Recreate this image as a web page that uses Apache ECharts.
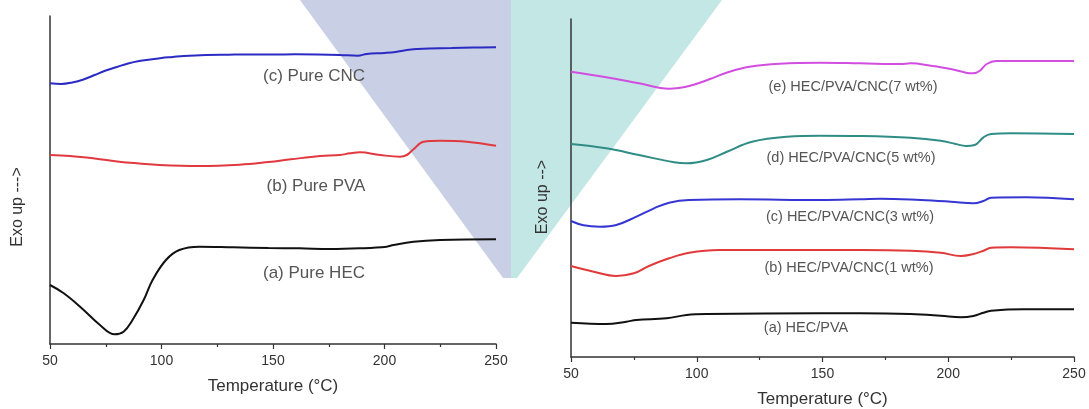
<!DOCTYPE html>
<html>
<head>
<meta charset="utf-8">
<script src="https://cdn.jsdelivr.net/npm/echarts@6/dist/echarts.min.js"></script>
<style>
html,body{margin:0;padding:0;background:#fff;}
#chart{width:1089px;height:409px;}
</style>
</head>
<body>
<div id="chart"></div>
<script>
// Temperature ticks
const xTicks = [50, 100, 150, 200, 250];

// Left panel: DSC curves (heat flow, arbitrary units)
const pureCNC = [[50,260.7],[55,260],[60,261.5],[65,264.5],[70,269],[75,273.5],[80,277],[85,280.5],[90,283],[95,284.5],[100,286],[105,287],[110,288],[120,289],[130,289.3],[140,289.5],[150,289.5],[160,289.7],[170,289.5],[180,289],[188,288.3],[192,290],[200,291],[205,292],[210,294],[215,295],[220,295.5],[230,296],[240,296.5],[250,296.7]];
const purePVA = [[50,189],[59,188],[70,185.5],[81,182.3],[90,180.5],[99,179],[117,178],[135,179.3],[148,182],[158,184.7],[171,188],[180,189],[184.5,190.7],[189,191.7],[198,189],[207,187.3],[210,189],[213,194.7],[217.5,202.3],[225,203.3],[237,202.3],[250,198.3]];
const pureHEC = [[50,59],[56,51],[63.5,37.3],[72.4,19],[79,9.7],[83,12.3],[87,24],[92,44],[96,64],[102,84],[108,94],[117,97.3],[132,96.7],[148,96],[162,95.7],[175.6,95],[189,95.7],[201,97.3],[204,99],[213,102.3],[225,104],[250,104.7]];

// Right panel: DSC curves (heat flow, arbitrary units)
const blend7 = [[50,285.3],[64,279.7],[77,273.7],[89,268.3],[97,271],[105,277.7],[113,285.3],[121,290.3],[133,293.3],[149,294.3],[165,293.7],[181,293],[185,293.7],[193,291.3],[201,288],[207,284.3],[210,283.7],[212.6,286.3],[215.3,293],[219,296],[231,296],[250,296]];
const blend5 = [[50,213],[64,208.7],[77,202],[91,194.7],[96,193.7],[104,197],[112,205.3],[122,215.3],[136,220.3],[149,221.3],[165,221],[185,219.3],[197,216.3],[203,213],[207,211],[210.5,212],[214,219.7],[217,223],[225,223.7],[250,223]];
const blend3 = [[50,136],[55,131.7],[61.5,130.3],[68,132],[76,140.3],[83,148.7],[89,154.3],[97,157],[117,157.7],[149,157],[165,157.7],[173,158.3],[189,157],[201,155.3],[210,153.7],[214,156],[217,159.3],[231,159.7],[250,157.7]];
const blend1 = [[50,91],[59,85.3],[68,81],[75,83.7],[81,91],[89,98.7],[97,104.3],[109,107],[149,107],[165,107],[185,106.3],[197,104.3],[205,101],[210,103],[214,106.3],[217,109.3],[225,109.7],[250,107.7]];
const hecPva = [[50,34.3],[64,33],[72,35.3],[76,37],[88,38.7],[96,42],[104,43],[149,43.7],[165,43.7],[185,43],[197,41.3],[205,39.7],[210,41],[214,44.3],[217,46.3],[230,47.7],[250,47.7]];

const leftNames = ['(c) Pure CNC', '(b) Pure PVA', '(a) Pure HEC'];
const rightNames = ['(e) HEC/PVA/CNC(7 wt%)', '(d) HEC/PVA/CNC(5 wt%)', '(c) HEC/PVA/CNC(3 wt%)', '(b) HEC/PVA/CNC(1 wt%)', '(a) HEC/PVA'];
const yLabelLeft = 'Exo up --->';
const yLabelRight = 'Exo up -->';
const xName = 'Temperature (\u00B0C)';

const FONT = 'Liberation Sans, Arial, sans-serif';
const chart = echarts.init(document.getElementById('chart'), null, {renderer: 'canvas'});

function xAxisCfg(gi) {
  return {
    gridIndex: gi, type: 'value', min: 50, max: 250, interval: 50,
    name: xName, nameLocation: 'middle', nameGap: 34,
    nameTextStyle: {fontFamily: FONT, fontSize: 17, color: '#333'},
    axisLine: {lineStyle: {color: '#333', width: 1.5}},
    axisTick: {show: true, length: 5, lineStyle: {color: '#333', width: 1.2}},
    minorTick: {show: true, splitNumber: 2, length: 3, lineStyle: {color: '#333', width: 1.2}},
    axisLabel: {fontFamily: FONT, fontSize: 14, color: '#333', margin: 10,
      formatter: v => xTicks.includes(v) ? String(v) : ''},
    splitLine: {show: false}
  };
}
function yAxisCfg(gi, h) {
  return {
    gridIndex: gi, type: 'value', min: 0, max: h,
    axisLine: {show: true, onZero: false, lineStyle: {color: '#333', width: 1.5}},
    axisTick: {show: false}, axisLabel: {show: false}, splitLine: {show: false}
  };
}
function line(name, data, color, xi) {
  return {
    name, type: 'line', xAxisIndex: xi, yAxisIndex: xi, data,
    smooth: 0.4, showSymbol: false, symbol: 'none',
    lineStyle: {color, width: 2}, z: 5
  };
}
function label(text, x, y, size) {
  return {type: 'text', x, y, z: 10,
    style: {text, fontFamily: FONT, fontSize: size, fill: '#555', textAlign: 'center', textVerticalAlign: 'middle'}};
}

const option = {
  animation: false,
  backgroundColor: '#fff',
  grid: [
    {left: 50, right: 593, top: 16, bottom: 65, containLabel: false, outerBoundsMode: 'none'},
    {left: 571, right: 15, top: 19, bottom: 52, containLabel: false, outerBoundsMode: 'none'}
  ],
  xAxis: [xAxisCfg(0), xAxisCfg(1)],
  yAxis: [yAxisCfg(0, 328), yAxisCfg(1, 338)],
  graphic: [
    {type: 'polygon', z: -100, shape: {points: [[300,0],[511,0],[511,278],[503,278]]}, style: {fill: '#c9cfe4'}},
    {type: 'polygon', z: -100, shape: {points: [[511,0],[722,0],[517,278],[511,278]]}, style: {fill: '#c3e7e5'}},
    label(leftNames[0], 314, 76, 17),
    label(leftNames[1], 316, 186, 17),
    label(leftNames[2], 314, 273, 17),
    label(rightNames[0], 853, 87, 14.5),
    label(rightNames[1], 851, 158, 14.5),
    label(rightNames[2], 850, 217, 14.5),
    label(rightNames[3], 849, 268, 14.5),
    label(rightNames[4], 806, 328, 14.5),
    {type: 'text', x: 18, y: 207, rotation: Math.PI/2, z: 10,
      style: {text: yLabelLeft, fontFamily: FONT, fontSize: 16, fill: '#333', textAlign: 'center', textVerticalAlign: 'middle'}},
    {type: 'text', x: 543, y: 197, rotation: Math.PI/2, z: 10,
      style: {text: yLabelRight, fontFamily: FONT, fontSize: 16, fill: '#333', textAlign: 'center', textVerticalAlign: 'middle'}}
  ],
  series: [
    line(leftNames[0], pureCNC, '#2b2bc4', 0),
    line(leftNames[1], purePVA, '#e0393f', 0),
    line(leftNames[2], pureHEC, '#111111', 0),
    line(rightNames[0], blend7, '#d24ee0', 1),
    line(rightNames[1], blend5, '#2f8d86', 1),
    line(rightNames[2], blend3, '#3636d2', 1),
    line(rightNames[3], blend1, '#e03a3a', 1),
    line(rightNames[4], hecPva, '#111111', 1)
  ]
};
chart.setOption(option);
</script>
</body>
</html>
